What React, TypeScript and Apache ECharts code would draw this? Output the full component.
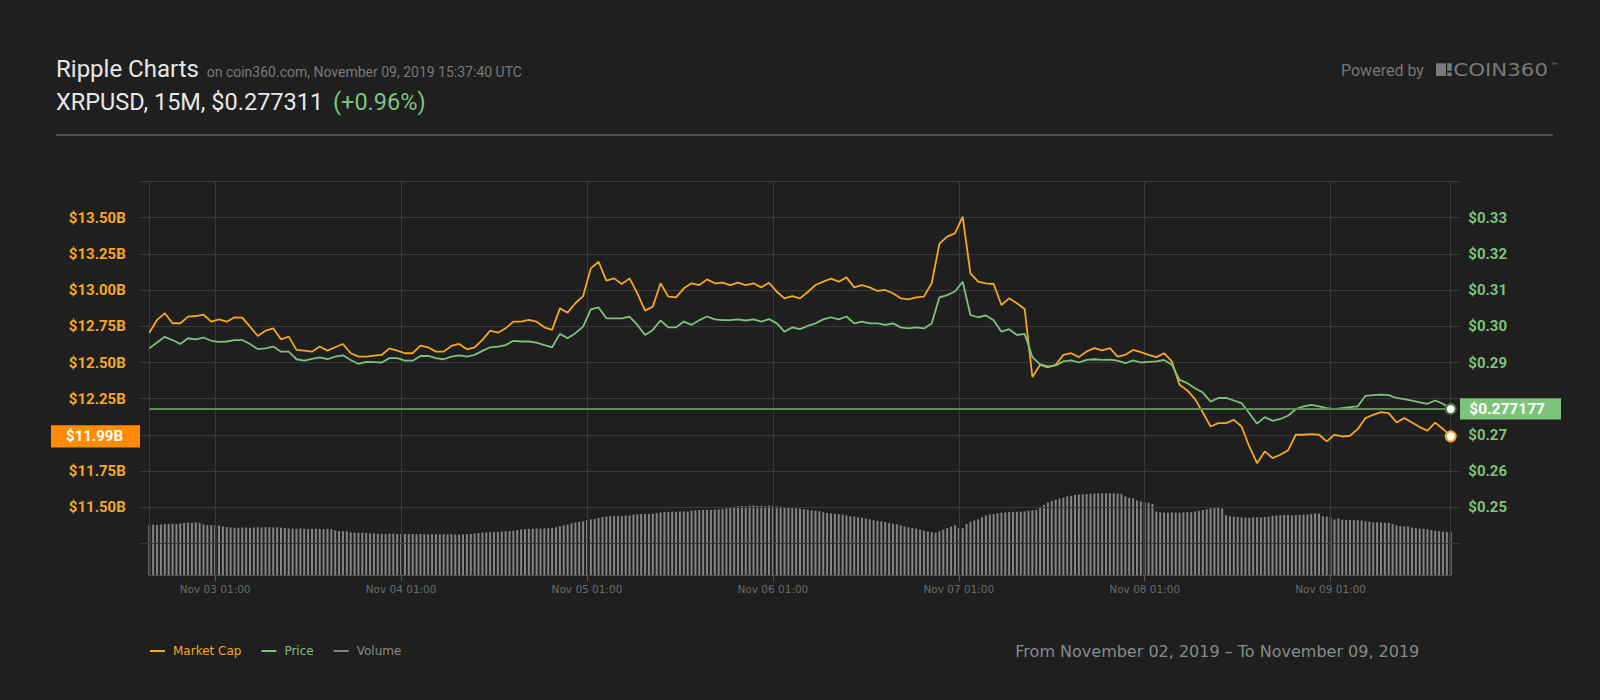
import React, { useEffect, useRef } from "react";
import * as echarts from "echarts";

// ---------- data ----------
// first 30-minute slot (UTC); labels are shown in UTC+1
const START_UTC = Date.UTC(2019, 10, 2, 15, 30);
const SLOT_MINUTES = 30;
const LABEL_OFFSET_HOURS = 1;
const MONTHS = ["Jan", "Feb", "Mar", "Apr", "May", "Jun", "Jul", "Aug", "Sep", "Oct", "Nov", "Dec"];

// hourly market cap, billions USD
const MARKET_CAP_B = [
  12.706, 12.794, 12.84, 12.771, 12.771, 12.817, 12.821, 12.83, 12.782, 12.798,
  12.782, 12.812, 12.81, 12.748, 12.683, 12.72, 12.736, 12.66, 12.679, 12.587,
  12.582, 12.575, 12.61, 12.582, 12.605, 12.628, 12.564, 12.541, 12.541, 12.548,
  12.552, 12.598, 12.582, 12.564, 12.564, 12.617, 12.605, 12.575, 12.575, 12.614,
  12.628, 12.591, 12.605, 12.656, 12.72, 12.706, 12.736, 12.782, 12.782, 12.794,
  12.782, 12.743, 12.725, 12.874, 12.844, 12.909,
  12.959, 13.15, 13.196, 13.065, 13.081, 13.042, 13.081, 12.978, 12.858, 12.886,
  13.047, 12.955, 12.95, 13.012, 13.047, 13.035, 13.074, 13.047, 13.051, 13.035,
  13.051, 13.035, 13.047, 13.019, 13.051, 12.989, 12.943, 12.959, 12.943, 12.987,
  13.035, 13.058, 13.079, 13.058, 13.088, 13.019, 13.035, 13.019, 12.994, 13.001,
  12.978, 12.943, 12.936, 12.95, 12.955, 13.047, 13.32, 13.369, 13.392, 13.507,
  13.116, 13.058, 13.047, 13.042, 12.897, 12.943,
  12.909, 12.87, 12.4, 12.484, 12.466, 12.484, 12.553, 12.564, 12.537, 12.576,
  12.599, 12.583, 12.599, 12.541, 12.553, 12.587, 12.571, 12.553, 12.537, 12.564,
  12.507, 12.346, 12.307, 12.247, 12.155, 12.058, 12.081, 12.081, 12.104, 12.058,
  11.92, 11.805, 11.886, 11.84, 11.863, 11.893, 12.001, 12.001, 12.006, 12.001,
  11.955, 12.001, 11.989, 11.994, 12.04, 12.116, 12.139, 12.157, 12.15, 12.086,
  12.116, 12.086, 12.054, 12.03, 12.085, 12.041, 11.99,
];

// hourly price, USD
const PRICE_USD = [
  0.2939, 0.2955, 0.2971, 0.2962, 0.2951, 0.2967, 0.2964, 0.2969, 0.296, 0.2957,
  0.2958, 0.2962, 0.2962, 0.2951, 0.2937, 0.2939, 0.2944, 0.293, 0.293, 0.2909,
  0.2905, 0.291, 0.2914, 0.2909, 0.2916, 0.292, 0.2907, 0.2896, 0.2902, 0.2901,
  0.29, 0.2912, 0.2912, 0.2905, 0.2905, 0.2918, 0.2918, 0.2912, 0.2909, 0.2916,
  0.292, 0.2916, 0.2921, 0.2932, 0.2942, 0.2944, 0.2948, 0.296, 0.2958, 0.2958,
  0.2955, 0.2948, 0.2942, 0.2979, 0.2967, 0.2981,
  0.2999, 0.3047, 0.3052, 0.3022, 0.3022, 0.3022, 0.3027, 0.3004, 0.2976, 0.299,
  0.3016, 0.2997, 0.2997, 0.3013, 0.3004, 0.3017, 0.3027, 0.3019, 0.3017, 0.3017,
  0.3019, 0.3016, 0.3019, 0.3013, 0.302, 0.3008, 0.2985, 0.2997, 0.2992, 0.3001,
  0.3008, 0.3019, 0.3025, 0.3019, 0.3027, 0.3008, 0.3013, 0.3008, 0.3008, 0.3004,
  0.3008, 0.2997, 0.2994, 0.2997, 0.2994, 0.3008, 0.308, 0.3086, 0.3096, 0.3123,
  0.3031, 0.3025, 0.303, 0.3017, 0.2985, 0.2992,
  0.2976, 0.2979, 0.2915, 0.2895, 0.2889, 0.2892, 0.2903, 0.2906, 0.29, 0.2907,
  0.2909, 0.2907, 0.2908, 0.2905, 0.2898, 0.2906, 0.29, 0.2902, 0.2903, 0.2907,
  0.2894, 0.2852, 0.2843, 0.2829, 0.2817, 0.2792, 0.2802, 0.2802, 0.2795, 0.2788,
  0.276, 0.2731, 0.2749, 0.2739, 0.2744, 0.2753, 0.2771, 0.2779, 0.2783, 0.2779,
  0.2774, 0.2771, 0.2774, 0.2777, 0.2779, 0.2808, 0.281, 0.2811, 0.281, 0.2802,
  0.2799, 0.2795, 0.279, 0.2786, 0.2795, 0.2786, 0.277177,
];

// volume per 30-minute slot, millions USD
const VOLUME_M = [
  1270, 1285, 1275, 1290,
  1300, 1305, 1310, 1300, 1315,
  1330, 1340, 1335, 1345, 1330,
  1290, 1280, 1275, 1270, 1265,
  1240, 1225, 1215, 1210, 1205, 1215, 1210, 1205, 1215,
  1220, 1215, 1225, 1220, 1215, 1220, 1210,
  1200, 1190, 1185, 1180, 1190, 1185, 1175, 1180, 1185, 1180, 1175, 1180, 1170,
  1140, 1125, 1120, 1120,
  1090, 1085, 1080, 1080, 1075,
  1065, 1060, 1055, 1055, 1050, 1060, 1055, 1050, 1055,
  1050, 1045, 1050, 1045, 1050, 1045,
  1040, 1045, 1040, 1035, 1040, 1045, 1040, 1040, 1035, 1040, 1045, 1050, 1060,
  1075, 1085, 1090, 1095, 1100, 1105,
  1115, 1120, 1125, 1130,
  1150, 1165, 1175, 1180, 1185, 1190, 1185, 1190, 1195, 1200, 1220,
  1250, 1270, 1290,
  1320, 1340, 1360, 1370,
  1400, 1420, 1430,
  1460, 1480, 1495, 1500, 1505, 1510, 1505, 1515, 1520,
  1540, 1550, 1555, 1560, 1555, 1565,
  1580, 1595, 1605, 1610, 1615, 1610, 1620, 1625, 1620,
  1640, 1650, 1655, 1660, 1665, 1660, 1670, 1675,
  1690, 1705, 1710,
  1740, 1750, 1760, 1755, 1765, 1770, 1760, 1765, 1755, 1770, 1760, 1750, 1745,
  1730, 1720, 1710, 1700, 1695,
  1680, 1665, 1650, 1640, 1630,
  1600, 1585, 1570, 1560, 1550, 1540,
  1520, 1500, 1490, 1475, 1460,
  1440, 1420, 1400, 1385, 1370,
  1350, 1330, 1310, 1300,
  1270, 1240, 1220, 1200, 1185,
  1160, 1130, 1110, 1095, 1085,
  1120, 1160, 1200, 1240, 1270, 1200, 1195, 1300, 1360, 1390, 1420, 1470, 1520, 1545, 1555,
  1575, 1590, 1600, 1610, 1605, 1610, 1615, 1620,
  1640, 1655, 1660,
  1720, 1790, 1850, 1890, 1920, 1950, 1975,
  2000, 2020, 2040, 2050, 2055, 2060,
  2070, 2075, 2080, 2085, 2080, 2085, 2080, 2075, 2060,
  2000, 1970, 1955,
  1900, 1880, 1860,
  1840, 1810,
  1620, 1600, 1595, 1590, 1600, 1595, 1590, 1600, 1605, 1600, 1620,
  1640, 1655, 1680, 1700,
  1710, 1715, 1690,
  1530, 1500, 1490, 1480,
  1470, 1465, 1460, 1470, 1475, 1470, 1480, 1485,
  1510, 1520, 1525, 1530, 1535, 1525, 1530, 1530, 1540, 1545,
  1560, 1575, 1570,
  1500, 1490, 1480,
  1420, 1440, 1410, 1400, 1405, 1400, 1395, 1390,
  1370, 1360, 1340, 1345, 1340, 1335, 1330,
  1300, 1270, 1250, 1240, 1235,
  1210, 1195, 1185, 1180, 1175,
  1150, 1130, 1120, 1110, 1100, 1095,
];

const MC_AXIS = [11.0, 13.75, 0.25]; // min, max, step
const PRICE_AXIS = [0.23, 0.34, 0.01];
const VOLUME_AXIS_MAX = 10000;
const TICK_TIME = "01:00";

const HEADER_TITLE = "Ripple Charts";
const HEADER_SUB = "on coin360.com, November 09, 2019 15:37:40 UTC";
const HEADER_QUOTE = "XRPUSD, 15M, $0.277311";
const HEADER_CHANGE = "(+0.96%)";
const RANGE_TEXT = "From November 02, 2019 \u2013 To November 09, 2019";

// ---------- derived ----------
const pad = (n: number) => String(n).padStart(2, "0");
const SLOT_LABELS = VOLUME_M.map((_, j) => {
  const d = new Date(START_UTC + j * SLOT_MINUTES * 60000 + LABEL_OFFSET_HOURS * 3600000);
  return `${MONTHS[d.getUTCMonth()]} ${pad(d.getUTCDate())} ${pad(d.getUTCHours())}:${pad(d.getUTCMinutes())}`;
});
const isTickLabel = (v: string) => v.endsWith(" " + TICK_TIME);
const LAST_SLOT = SLOT_LABELS.length - 1;
const MC_LAST = MARKET_CAP_B[MARKET_CAP_B.length - 1];
const PRICE_LAST = PRICE_USD[PRICE_USD.length - 1];

// ---------- style ----------
const BG = "#1e1f1e";
const GRID_C = "#383938";
const ORANGE = "#f5a623";
const GREEN = "#7dc27a";
const VOL_C = "#858585";

export default function App() {
  const ref = useRef<HTMLDivElement>(null);

  useEffect(() => {
    if (!ref.current) return;
    const chart = echarts.init(ref.current, undefined, { renderer: "svg" });

    const mcCount = Math.round((MC_AXIS[1] - MC_AXIS[0]) / MC_AXIS[2]) + 1;
    const mcSplitColors = Array.from({ length: mcCount }, (_, i) => (i === 0 ? "rgba(0,0,0,0)" : GRID_C));

    const option: any = {
      animation: false,
      backgroundColor: BG,
      textStyle: { fontFamily: "Roboto" },
      grid: [
        { left: 149.3, right: 149.3, top: 181.5, bottom: 120.3 },
        { left: 149.3, right: 149.3, top: 181.5, bottom: 124.7 },
      ],
      legend: {
        left: 145,
        top: 640,
        icon: "rect",
        itemWidth: 15,
        itemHeight: 2,
        itemGap: 20,
        selectedMode: false,
        textStyle: { fontFamily: "DejaVu Sans", fontSize: 12, padding: [0, 0, 0, 3] },
        data: [
          { name: "Market Cap", textStyle: { color: ORANGE } },
          { name: "Price", textStyle: { color: GREEN } },
          { name: "Volume", textStyle: { color: "#8a8a8a" } },
        ],
      },
      xAxis: [
        { type: "category", gridIndex: 0, data: SLOT_LABELS, boundaryGap: false, show: false },
        {
          type: "category",
          gridIndex: 1,
          data: SLOT_LABELS,
          boundaryGap: false,
          axisLine: { show: true, lineStyle: { color: "#4a4b4a", width: 1 } },
          axisTick: {
            show: true,
            length: 6,
            interval: (_i: number, v: string) => isTickLabel(v),
            lineStyle: { color: "#555" },
          },
          axisLabel: {
            interval: (_i: number, v: string) => isTickLabel(v),
            color: "#6b6b6b",
            fontFamily: "DejaVu Sans",
            fontSize: 10.5,
            margin: 8,
          },
          splitLine: {
            show: true,
            interval: (i: number, v: string) => isTickLabel(v) || i === 0 || i === LAST_SLOT,
            lineStyle: { color: GRID_C, width: 1 },
          },
        },
      ],
      yAxis: [
        {
          type: "value",
          gridIndex: 0,
          position: "left",
          min: MC_AXIS[0],
          max: MC_AXIS[1],
          interval: MC_AXIS[2],
          axisLine: { show: false },
          axisTick: { show: true, length: 9, lineStyle: { color: GRID_C } },
          axisLabel: {
            margin: 23.5,
            color: ORANGE,
            fontFamily: "Roboto",
            fontWeight: "bold",
            fontSize: 15,
            formatter: (v: number) =>
              v < 11.4 || v > 13.6 || Math.abs(v - MC_LAST) < 0.1 ? "" : "$" + v.toFixed(2) + "B",
          },
          splitLine: { show: true, lineStyle: { color: mcSplitColors, width: 1 } },
        },
        {
          type: "value",
          gridIndex: 0,
          position: "right",
          min: PRICE_AXIS[0],
          max: PRICE_AXIS[1],
          interval: PRICE_AXIS[2],
          axisLine: { show: false },
          axisTick: { show: true, length: 9, lineStyle: { color: GRID_C } },
          axisLabel: {
            margin: 17.6,
            color: GREEN,
            fontFamily: "Roboto",
            fontWeight: "bold",
            fontSize: 15,
            formatter: (v: number) =>
              v < 0.245 || v > 0.335 || Math.abs(v - PRICE_LAST) < 0.005 ? "" : "$" + v.toFixed(2),
          },
          splitLine: { show: false },
        },
        { type: "value", gridIndex: 1, min: 0, max: VOLUME_AXIS_MAX, show: false },
      ],
      series: [
        {
          name: "Volume",
          type: "bar",
          xAxisIndex: 1,
          yAxisIndex: 2,
          data: VOLUME_M,
          barWidth: 2,
          color: VOL_C,
          itemStyle: { color: VOL_C },
          silent: true,
          z: -1,
        },
        {
          name: "Market Cap",
          type: "line",
          xAxisIndex: 0,
          yAxisIndex: 0,
          data: MARKET_CAP_B.map((v, i) => [i * 2, v]),
          symbol: "none",
          showSymbol: false,
          color: ORANGE,
          lineStyle: { color: ORANGE, width: 1.8 },
          silent: true,
          z: 3,
          markPoint: {
            silent: true,
            symbol: "circle",
            symbolSize: 10,
            label: { show: false },
            itemStyle: { color: "#ffffff", borderColor: ORANGE, borderWidth: 2 },
            data: [{ coord: [LAST_SLOT, MC_LAST] }],
          },
        },
        {
          name: "Price",
          type: "line",
          xAxisIndex: 0,
          yAxisIndex: 1,
          data: PRICE_USD.map((v, i) => [i * 2, v]),
          symbol: "none",
          showSymbol: false,
          color: GREEN,
          lineStyle: { color: GREEN, width: 1.8 },
          silent: true,
          z: 4,
          markLine: {
            silent: true,
            precision: 6,
            symbol: ["none", "none"],
            label: { show: false },
            lineStyle: { color: "#5e8f58", width: 2, type: "solid" },
            data: [{ yAxis: PRICE_LAST }],
          },
          markPoint: {
            silent: true,
            symbol: "circle",
            symbolSize: 10,
            label: { show: false },
            itemStyle: { color: "#ffffff", borderColor: "#4d6f4a", borderWidth: 2 },
            data: [{ coord: [LAST_SLOT, PRICE_LAST] }],
          },
        },
      ],
    };

    chart.setOption(option);

    const yMc = chart.convertToPixel({ yAxisIndex: 0 } as any, MC_LAST) as unknown as number;
    const yPr = chart.convertToPixel({ yAxisIndex: 1 } as any, PRICE_LAST) as unknown as number;
    const yMcMin = chart.convertToPixel({ yAxisIndex: 0 } as any, MC_AXIS[0]) as unknown as number;

    const txt = (x: number, y: number, text: string, font: string, fill: string, align = "left", extra: any = {}) => ({
      type: "text",
      x,
      y,
      silent: true,
      z: 100,
      ...extra,
      style: {
        text,
        font,
        fill,
        align,
        verticalAlign: "middle",
        textAlign: align,
        textVerticalAlign: "middle",
      },
    });

    chart.setOption({
      graphic: [
        txt(56, 68.5, HEADER_TITLE, "24px Roboto", "#e8e8e8"),
        txt(206.7, 72, HEADER_SUB, "14px Roboto", "#7a7a7a"),
        txt(56, 102, HEADER_QUOTE, "23.5px Roboto", "#e8e8e8"),
        txt(333, 102, HEADER_CHANGE, "23.5px Roboto", "#7dc47d"),
        {
          type: "line",
          silent: true,
          shape: { x1: 56, y1: 135, x2: 1553, y2: 135 },
          style: { stroke: "#4e4f4e", lineWidth: 2 },
        },
        txt(1341, 70.5, "Powered by", "16px Roboto", "#777777"),
        { type: "rect", silent: true, shape: { x: 1436, y: 63.3, width: 10, height: 12.7 }, style: { fill: "#7a7a7a" } },
        { type: "rect", silent: true, shape: { x: 1447.2, y: 63.3, width: 4.5, height: 7.5 }, style: { fill: "#7a7a7a" } },
        { type: "rect", silent: true, shape: { x: 1447.2, y: 72.5, width: 4.5, height: 3.5 }, style: { fill: "#7a7a7a" } },
        txt(1453.3, 69.8, "COIN360", "17.5px 'DejaVu Sans'", "#7a7a7a", "left", { scaleX: 1.22 }),
        txt(1550, 66, "\u2122", "9px 'DejaVu Sans'", "#7a7a7a"),
        txt(1419.3, 651.8, RANGE_TEXT, "16px 'DejaVu Sans'", "#8a8a8a", "right"),
        // hide axis tick stubs at the (unlabelled) axis minimum below the time axis
        { type: "rect", silent: true, z: 90, shape: { x: 136, y: yMcMin - 2.5, width: 13, height: 5 }, style: { fill: BG } },
        { type: "rect", silent: true, z: 90, shape: { x: 1451.5, y: yMcMin - 2.5, width: 12, height: 5 }, style: { fill: BG } },
        // current value badges
        { type: "rect", silent: true, z: 100, shape: { x: 51, y: yMc - 11.2, width: 89, height: 22.4 }, style: { fill: "#ff8c00" } },
        txt(94.5, yMc, "$" + MC_LAST.toFixed(2) + "B", "bold 15px Roboto", "#ffffff", "center", { z: 101 }),
        { type: "rect", silent: true, z: 100, shape: { x: 1460, y: yPr - 10.7, width: 101, height: 21.4 }, style: { fill: "#7cc47a" } },
        txt(1469.3, yPr, "$" + PRICE_LAST.toFixed(6), "bold 15.5px Roboto", "#ffffff", "left", { z: 101 }),
      ],
    });

    return () => chart.dispose();
  }, []);

  return (
    <div
      ref={ref}
      style={{ position: "fixed", left: 0, top: 0, width: 1600, height: 700, background: BG }}
    />
  );
}
